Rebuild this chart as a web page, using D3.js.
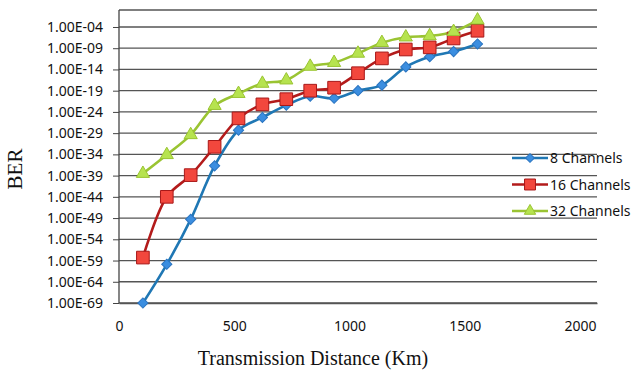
<!DOCTYPE html>
<html>
<head>
<meta charset="utf-8">
<script src="https://d3js.org/d3.v7.min.js"></script>
<style>
  body { margin: 0; background: #fff; }
  svg text { font-family: "Noto Sans", "Open Sans", sans-serif; fill: #111; }
</style>
</head>
<body>
<script>
// distances (Km)
var distances = [100, 200, 300, 400, 500, 600, 700, 800, 900, 1000, 1100, 1200, 1300, 1400, 1500];
// BER per series
var ber8 = [1e-69, 1.3e-60, 5e-50, 2e-37, 5e-29, 5e-26, 4e-23, 5e-21, 1.6e-21, 1e-19, 2e-18, 4e-14, 1e-11, 1.6e-10, 1e-8];
var ber16 = [5e-59, 1e-44, 1.3e-39, 6e-33, 3e-26, 6e-23, 1e-21, 1e-19, 5e-19, 1.3e-15, 4e-12, 5e-10, 1.6e-9, 2e-7, 1.3e-5];
var ber32 = [3e-39, 8e-35, 4e-30, 3e-23, 2e-20, 5e-18, 3e-17, 5e-14, 4e-13, 6e-11, 2e-8, 4e-7, 8e-7, 8e-6, 4e-3];
var seriesNames = ["8 Channels", "16 Channels", "32 Channels"];
var yTicks = [1e-4, 1e-9, 1e-14, 1e-19, 1e-24, 1e-29, 1e-34, 1e-39, 1e-44, 1e-49, 1e-54, 1e-59, 1e-64, 1e-69];
var xTicks = [0, 500, 1000, 1500, 2000];

var width = 641, height = 374;
var plotLeft = 119, plotRight = 597, plotTop = 10, plotBottom = 303;

var svg = d3.select("body").append("svg")
  .attr("width", width)
  .attr("height", height);

var x = d3.scaleLinear().domain([0, 2000]).range([plotLeft, plotRight]);
var y = d3.scaleLog().domain([1e-69, 1]).range([plotBottom, plotTop]);

function sci(v) {
  var e = Math.round(Math.log10(v));
  var s = Math.abs(e) < 10 ? "0" + Math.abs(e) : "" + Math.abs(e);
  return "1.00E" + (e < 0 ? "-" : "+") + s;
}

// gridlines
svg.append("g").selectAll("line")
  .data(yTicks.concat([1]))
  .enter().append("line")
  .attr("x1", plotLeft).attr("x2", plotRight)
  .attr("y1", function(d) { return y(d); })
  .attr("y2", function(d) { return y(d); })
  .attr("stroke", "#555")
  .attr("stroke-width", 1.3);

// y axis
var yAxis = svg.append("g")
  .attr("transform", "translate(" + plotLeft + ",0)")
  .call(d3.axisLeft(y).tickValues(yTicks).tickFormat(sci).tickSize(6).tickPadding(10));
yAxis.select(".domain").attr("stroke", "#444").attr("stroke-width", 1.3).attr("d", "M0," + plotTop + "V" + plotBottom);
yAxis.selectAll(".tick line").attr("stroke", "#444");
yAxis.selectAll(".tick text")
  .style("font-size", "14px")
  .attr("fill", "#111");

// x axis
var xAxis = svg.append("g")
  .attr("transform", "translate(0," + plotBottom + ")")
  .call(d3.axisBottom(x).tickValues(xTicks).tickFormat(d3.format("d")).tickSize(0).tickPadding(18));
xAxis.select(".domain").attr("stroke", "#555").attr("stroke-width", 1.3);
xAxis.selectAll(".tick text")
  .style("font-size", "14px")
  .attr("dx", function(d) { return -d / 2000 * 17; })
  .attr("fill", "#111");

// axis titles
svg.append("text")
  .attr("transform", "translate(22,169) rotate(-90)")
  .attr("text-anchor", "middle")
  .style("font-family", "'Liberation Serif', 'DejaVu Serif', serif")
  .style("font-size", "21px")
  .text("BER");

svg.append("text")
  .attr("x", 313).attr("y", 365)
  .attr("text-anchor", "middle")
  .style("font-family", "'Liberation Serif', 'DejaVu Serif', serif")
  .style("font-size", "20px")
  .text("Transmission Distance (Km)");

var styles = [
  { line: "#1f77b4", fill: "#3b8ee0", stroke: "#2a74c0", shape: d3.symbolSquare, size: 52, rot: 45 },
  { line: "#b31b1b", fill: "#f2473d", stroke: "#a81818", shape: d3.symbolSquare, size: 160, rot: 0 },
  { line: "#9ac432", fill: "#b6e34f", stroke: "#9ac432", shape: d3.symbolTriangle, size: 75, rot: 0 }
];
var allSeries = [ber8, ber16, ber32];

var line = d3.line()
  .x(function(d, i) { return x(distances[i]); })
  .y(function(d) { return y(d); })
  .curve(d3.curveCatmullRom.alpha(0.5));

allSeries.forEach(function(s, k) {
  var st = styles[k];
  svg.append("path")
    .datum(s)
    .attr("d", line)
    .attr("fill", "none")
    .attr("stroke", st.line)
    .attr("stroke-width", 2.6);
});

allSeries.forEach(function(s, k) {
  var st = styles[k];
  svg.append("g").selectAll("path")
    .data(s)
    .enter().append("path")
    .attr("transform", function(d, i) {
      return "translate(" + x(distances[i]) + "," + y(d) + ") rotate(" + st.rot + ")";
    })
    .attr("d", d3.symbol().type(st.shape).size(st.size))
    .attr("fill", st.fill)
    .attr("stroke", st.stroke)
    .attr("stroke-width", 1);
});

// legend
var legend = svg.append("g").attr("transform", "translate(512,158)");
seriesNames.forEach(function(name, k) {
  var st = styles[k];
  var g = legend.append("g").attr("transform", "translate(0," + k * 26.5 + ")");
  g.append("line")
    .attr("x1", 0).attr("x2", 36)
    .attr("stroke", st.line)
    .attr("stroke-width", 2.6);
  g.append("path")
    .attr("transform", "translate(18,0) rotate(" + st.rot + ")")
    .attr("d", d3.symbol().type(st.shape).size(st.size * 0.75))
    .attr("fill", st.fill)
    .attr("stroke", st.stroke);
  g.append("text")
    .attr("x", 38).attr("y", 5)
    .style("font-size", "14px")
    .text(name);
});
</script>
</body>
</html>
